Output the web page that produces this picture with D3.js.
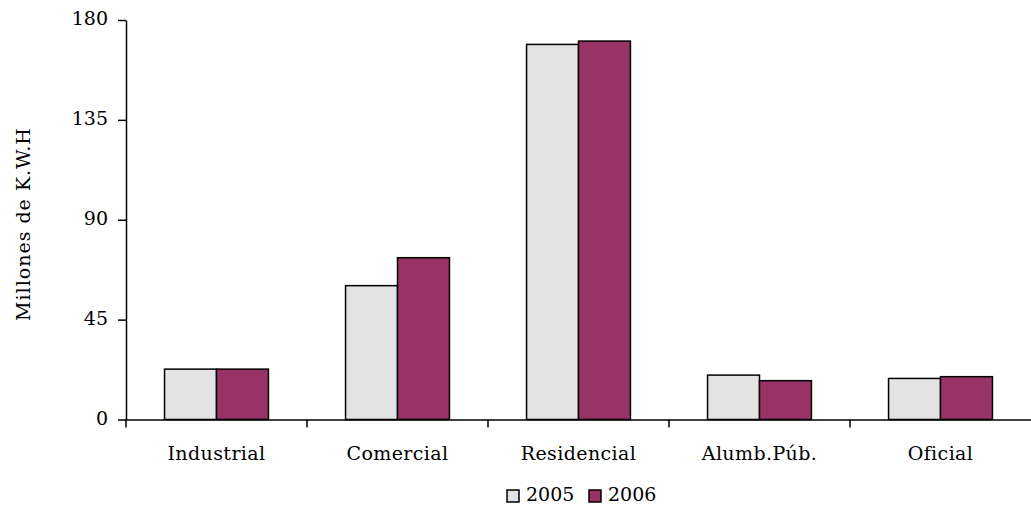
<!DOCTYPE html>
<html><head><meta charset="utf-8">
<script src="https://cdn.jsdelivr.net/npm/d3@7"></script>
<style>body{margin:0;background:#fff}svg{display:block}text{font-family:"DejaVu Serif",serif;fill:#000}</style>
</head><body><svg id="c" width="1031" height="506"></svg>
<script>
const categories = ["Industrial","Comercial","Residencial","Alumb.Púb.","Oficial"];
const seriesNames = ["2005","2006"];
const values2005 = [22.7, 60.3, 169.0, 20.0, 18.5];
const values2006 = [22.7, 72.9, 170.5, 17.5, 19.3];
const yTicks = [0,45,90,135,180];
const colors = ["#E3E3E3","#993366"];

const svg = d3.select("#c");
const mLeft = 126, mRight = 1031, mTop = 20, mBottom = 419.5;
const x0 = d3.scaleBand().domain(categories).range([mLeft,mRight]).padding(0);
const gap = x0.bandwidth()*0.213;
const x1 = d3.scaleBand().domain(seriesNames).range([gap, x0.bandwidth()-gap]).padding(0);
const y = d3.scaleLinear().domain([0,180]).range([mBottom,mTop]);
const data = [values2005, values2006];

const g = svg.append("g");
categories.forEach((c,i)=>{
  seriesNames.forEach((s,j)=>{
    g.append("rect")
      .attr("x", x0(c)+x1(s))
      .attr("y", y(data[j][i]))
      .attr("width", x1.bandwidth())
      .attr("height", y(0)-y(data[j][i]))
      .attr("fill", colors[j])
      .attr("stroke","#000").attr("stroke-width",1.5);
  });
});

const ya = svg.append("g").attr("transform",`translate(${mLeft},0)`)
  .call(d3.axisLeft(y).tickValues(yTicks).tickSize(8).tickSizeOuter(0).tickPadding(10));
ya.select(".domain").attr("stroke","#000").attr("stroke-width",1.5);
ya.selectAll(".tick line").attr("stroke","#000").attr("stroke-width",1.5);
ya.selectAll("text").attr("font-size",19).attr("font-family","DejaVu Serif").attr("dy","0.25em");

const xa = svg.append("g").attr("transform",`translate(0,${mBottom})`)
  .call(d3.axisBottom(x0).tickSize(0).tickPadding(27));
xa.select(".domain").attr("stroke","#000").attr("stroke-width",1.5);
xa.selectAll("text").attr("font-size",19).attr("font-family","DejaVu Serif").attr("letter-spacing","0.4px");
xa.selectAll(".sep").data(categories).enter().append("line")
  .attr("x1",d=>x0(d)).attr("x2",d=>x0(d)).attr("y1",0).attr("y2",8)
  .attr("stroke","#000").attr("stroke-width",1.5);

svg.append("text").attr("transform","translate(30,224) rotate(-90)")
  .attr("text-anchor","middle").attr("font-size",19).attr("letter-spacing","1px").text("Millones de K.W.H");

const leg = svg.append("g");
const legX = [507, 589];
seriesNames.forEach((s,j)=>{
  leg.append("rect").attr("x",legX[j]).attr("y",490).attr("width",12).attr("height",12)
    .attr("fill",colors[j]).attr("stroke","#000").attr("stroke-width",1.5);
  leg.append("text").attr("x",legX[j]+19).attr("y",501).attr("font-size",19).text(s);
});
</script></body></html>
